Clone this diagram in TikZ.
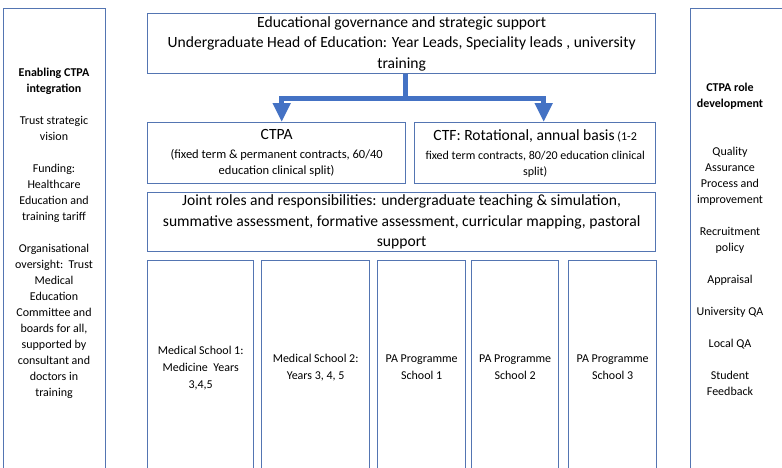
\documentclass[tikz,border=0pt]{standalone}
\usepackage{fontspec}
\setmainfont{Carlito}
\usetikzlibrary{arrows.meta}
\definecolor{framecol}{RGB}{84,117,178}
\definecolor{arrowcol}{RGB}{68,114,196}

\begin{document}
\begin{tikzpicture}[x=1pt,y=-1pt,
        box/.style={draw=framecol,line width=1.3pt,inner sep=0pt,anchor=north west,
            align=center,font=\fontsize{12}{16}\selectfont},
        coltext/.style={inner sep=0pt,anchor=north,align=center,font=\fontsize{12}{16}\selectfont},
        big/.style={font=\fontsize{15.6}{20.5}\selectfont},
        flow/.style={draw=arrowcol,line width=5pt,-{Triangle[width=17pt,length=19pt]}}]
        \useasboundingbox (0,0) rectangle (782,467);
        \fill[white] (0,0) rectangle (782,467);
        \clip (0,0) rectangle (782,467);

        \node[box,minimum width=102pt,minimum height=466pt] (enablebox) at (3,8) {};
        \node[coltext] (enabletext) at (54,68) {\textbf{Enabling CTPA}\\\textbf{integration}\\[16pt]
            Trust strategic\\vision\\[16pt]
            Funding:\\Healthcare\\Education and\\training tariff\\[16pt]
            Organisational\\oversight:~~Trust\\Medical\\Education\\Committee and\\boards for all,\\supported by\\consultant and\\doctors in\\training};

        \node[box,minimum width=100pt,minimum height=466pt] (rolebox) at (690,8) {};
        \node[coltext] (roletext) at (730,83) {\textbf{CTPA role}\\\textbf{development}\\[32pt]
            Quality\\Assurance\\Process and\\improvement\\[16pt]
            Recruitment\\policy\\[16pt]
            Appraisal\\[16pt]
            University QA\\[16pt]
            Local QA\\[16pt]
            Student\\Feedback};

        \node[box,big,minimum width=508pt,minimum height=60pt] (govern) at (147,13)
            {Educational governance and strategic support\\
            Undergraduate Head of Education: Year Leads, Speciality leads , university\\training};

        \node[box,font=\fontsize{12.5}{16}\selectfont,minimum width=258pt,minimum height=61pt] (ctpa) at (147,122)
            {{\fontsize{15.6}{16}\selectfont CTPA}\\[3pt]
            (fixed term \& permanent contracts, 60/40\\education clinical split)};
        \node[box,minimum width=241pt,minimum height=61pt] (ctf) at (414,122)
            {{\fontsize{15.6}{16}\selectfont CTF: Rotational, annual basis} (1-2\\[3pt]
            fixed term contracts, 80/20 education clinical\\split)};

        \coordinate (split) at (405.5,98);
        \draw[flow] (govern.south -| split) -- (split) -| ([xshift=5pt]ctpa.north);
        \draw[flow] (govern.south -| split) -- (split) -| ([xshift=8.5pt]ctf.north);

        \node[box,big,minimum width=508pt,minimum height=59pt] (joint) at (147,192)
            {Joint roles and responsibilities: undergraduate teaching \& simulation,\\
            summative assessment, formative assessment, curricular mapping, pastoral\\support};

        \node[box,font=\fontsize{12}{17}\selectfont,minimum width=106pt,minimum height=214pt] (med1) at (147,260)
            {Medical School 1:\\Medicine~~Years\\3,4,5};
        \node[box,font=\fontsize{12}{17}\selectfont,minimum width=108pt,minimum height=214pt] (med2) at (261,260)
            {Medical School 2:\\Years 3, 4, 5};
        \node[box,font=\fontsize{12}{17}\selectfont,minimum width=88pt,minimum height=214pt] (pa1) at (377,260)
            {PA Programme\\School 1};
        \node[box,font=\fontsize{12}{17}\selectfont,minimum width=87pt,minimum height=214pt] (pa2) at (471,260)
            {PA Programme\\School 2};
        \node[box,font=\fontsize{12}{17}\selectfont,minimum width=88pt,minimum height=214pt] (pa3) at (568,260)
            {PA Programme\\School 3};
    \end{tikzpicture}
\end{document}
